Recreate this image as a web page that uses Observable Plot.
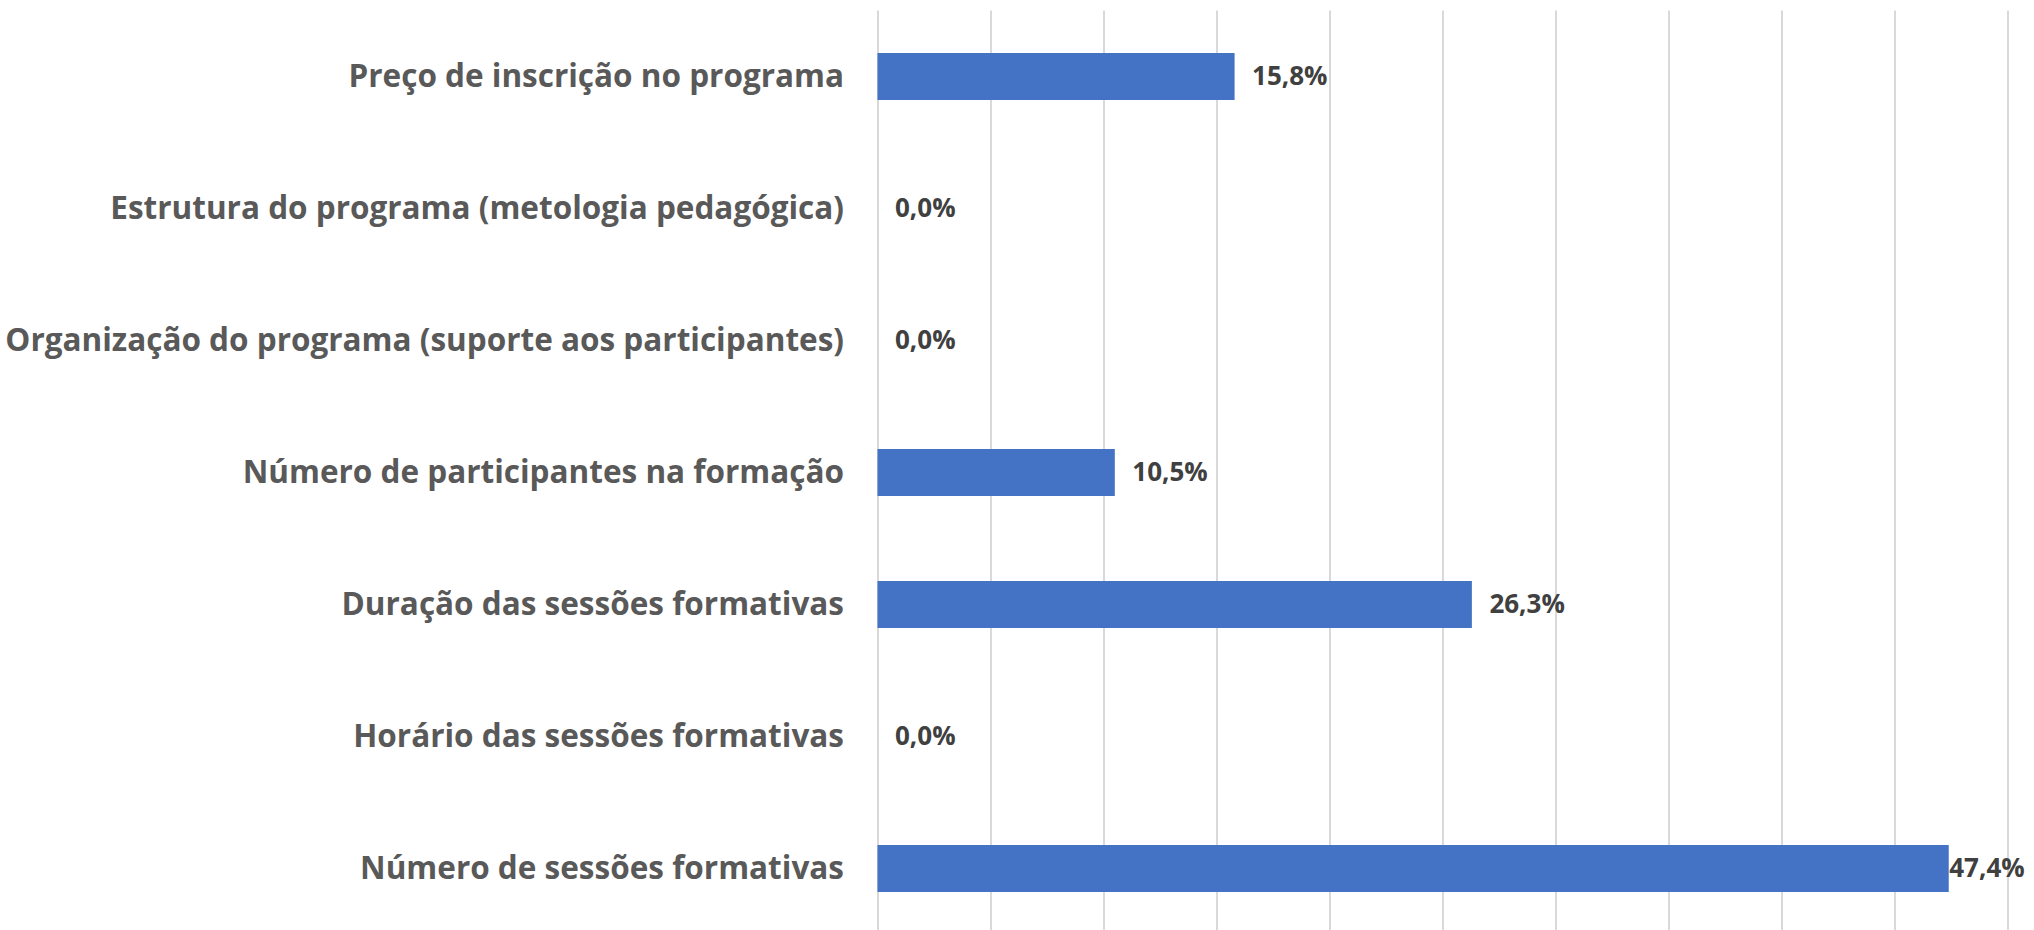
<!DOCTYPE html>
<html>
<head>
<meta charset="utf-8">
<script src="https://cdn.jsdelivr.net/npm/d3@7"></script>
<script src="https://cdn.jsdelivr.net/npm/@observablehq/plot@0.6"></script>
<style>
html,body{margin:0;padding:0;background:#fff;overflow:hidden;}
</style>
</head>
<body>
<div id="chart"></div>
<script>
const categories = [
  "Preço de inscrição no programa",
  "Estrutura do programa (metologia pedagógica)",
  "Organização do programa (suporte aos participantes)",
  "Número de participantes na formação",
  "Duração das sessões formativas",
  "Horário das sessões formativas",
  "Número de sessões formativas"
];
const values = [15.8, 0.0, 0.0, 10.5, 26.3, 0.0, 47.4];
const xTicks = [0, 5, 10, 15, 20, 25, 30, 35, 40, 45, 50];

const data = categories.map((c, i) => ({category: c, value: values[i]}));
const fmt = v => v.toFixed(1).replace(".", ",") + "%";

const chart = Plot.plot({
  width: 2034,
  height: 930,
  marginLeft: 877.5,
  marginRight: 26.5,
  marginTop: 10.5,
  marginBottom: -4.5,
  style: {fontFamily: "'Open Sans', sans-serif", background: "#fff"},
  x: {domain: [0, 50], axis: null},
  y: {domain: categories, paddingInner: 0.645, paddingOuter: 0.3225, axis: null},
  marks: [
    Plot.ruleX(xTicks, {stroke: "#d9d9d9", strokeWidth: 2}),
    Plot.barX(data, {y: "category", x: "value", fill: "#4472c4"}),
    Plot.axisY({tickSize: 0, tickPadding: 34, fontSize: 31.5, fontWeight: "bold", fill: "#595959", label: null}),
    Plot.text(data.filter(d => d.value < 40), {y: "category", x: "value", text: d => fmt(d.value), textAnchor: "start", dx: 17, fontSize: 26, fontWeight: "bold", fill: "#404040"}),
    Plot.text(data.filter(d => d.value >= 40), {y: "category", x: "value", text: d => fmt(d.value), textAnchor: "start", dx: 0, fontSize: 26, fontWeight: "bold", fill: "#404040"})
  ]
});
document.getElementById("chart").appendChild(chart);
</script>
</body>
</html>
